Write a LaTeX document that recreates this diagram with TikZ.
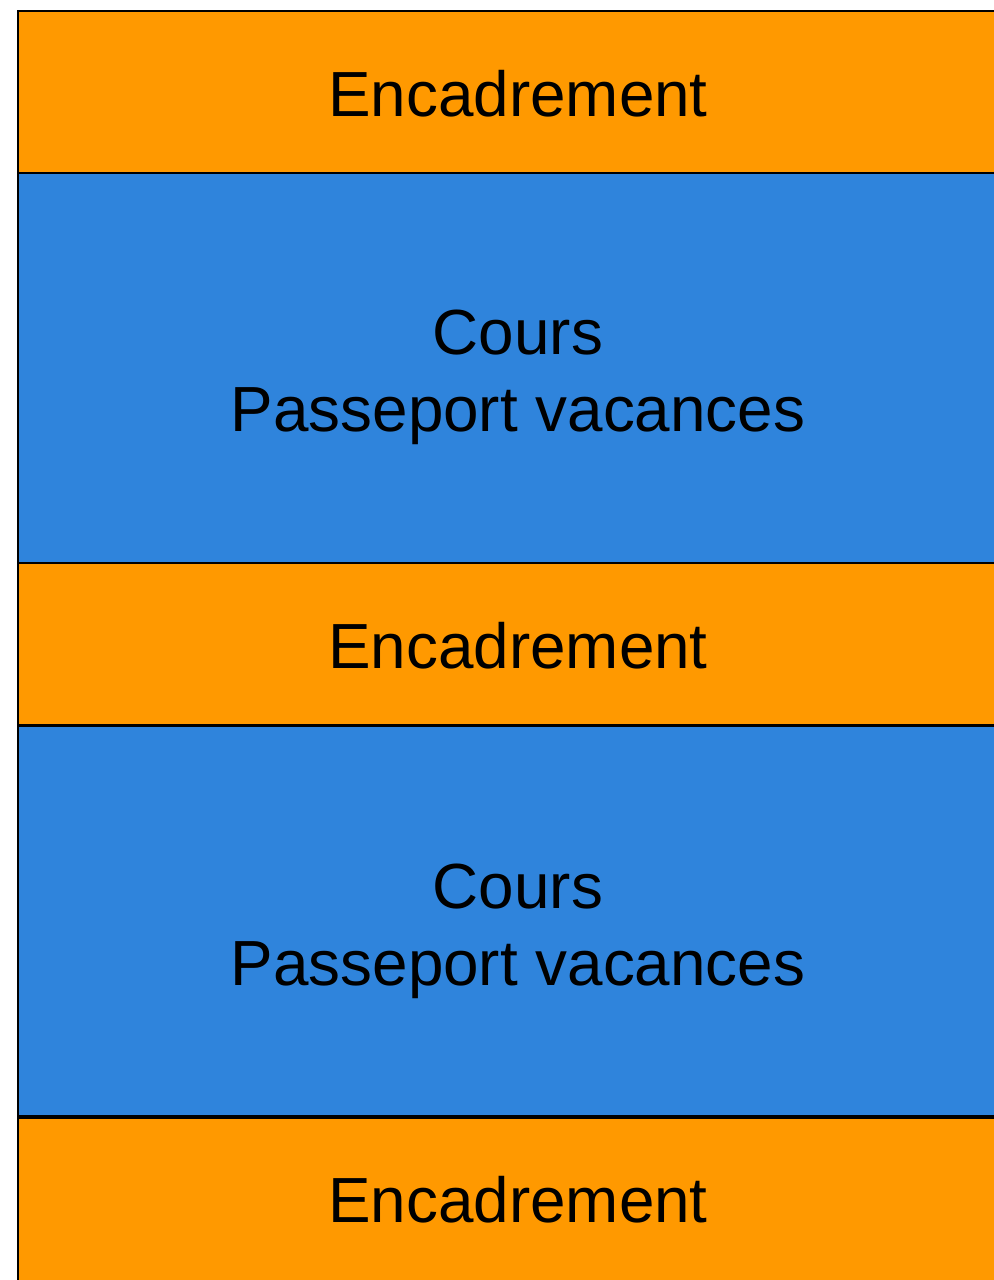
\documentclass[tikz,border=0pt]{standalone}
\usepackage{fontspec}
\setmainfont{Liberation Sans}
\definecolor{boxorange}{RGB}{255,153,0}
\definecolor{boxblue}{RGB}{47,132,220}
\begin{document}
\begin{tikzpicture}[x=0.5pt,y=-0.5pt,
  band/.style={draw=black,line width=1pt,inner sep=0pt,outer sep=0pt,anchor=north west,minimum width=1000*0.5pt},
  enc/.style={band,fill=boxorange,minimum height=162*0.5pt},
  cours/.style={band,fill=boxblue,minimum height=390*0.5pt},
  label/.style={font=\fontsize{31.9pt}{38.5pt}\selectfont,align=center,text=black}]
\useasboundingbox (0,0) rectangle (994,1280);
\node[enc] (e1) at (18,11) {};
\node[cours] (c1) at (18,173) {};
\node[enc] (e2) at (18,563) {};
\node[cours] (c2) at (18,726) {};
\node[enc, minimum height=180*0.5pt] (e3) at (18,1118) {};
\node[label] (t1) at (518,94) {Encadrement};
\node[label] (t2) at (518,377) {Cours\\Passeport vacances};
\node[label] (t3) at (518,646) {Encadrement};
\node[label] (t4) at (518,931) {Cours\\Passeport vacances};
\node[label] (t5) at (518,1200) {Encadrement};
\end{tikzpicture}
\end{document}
